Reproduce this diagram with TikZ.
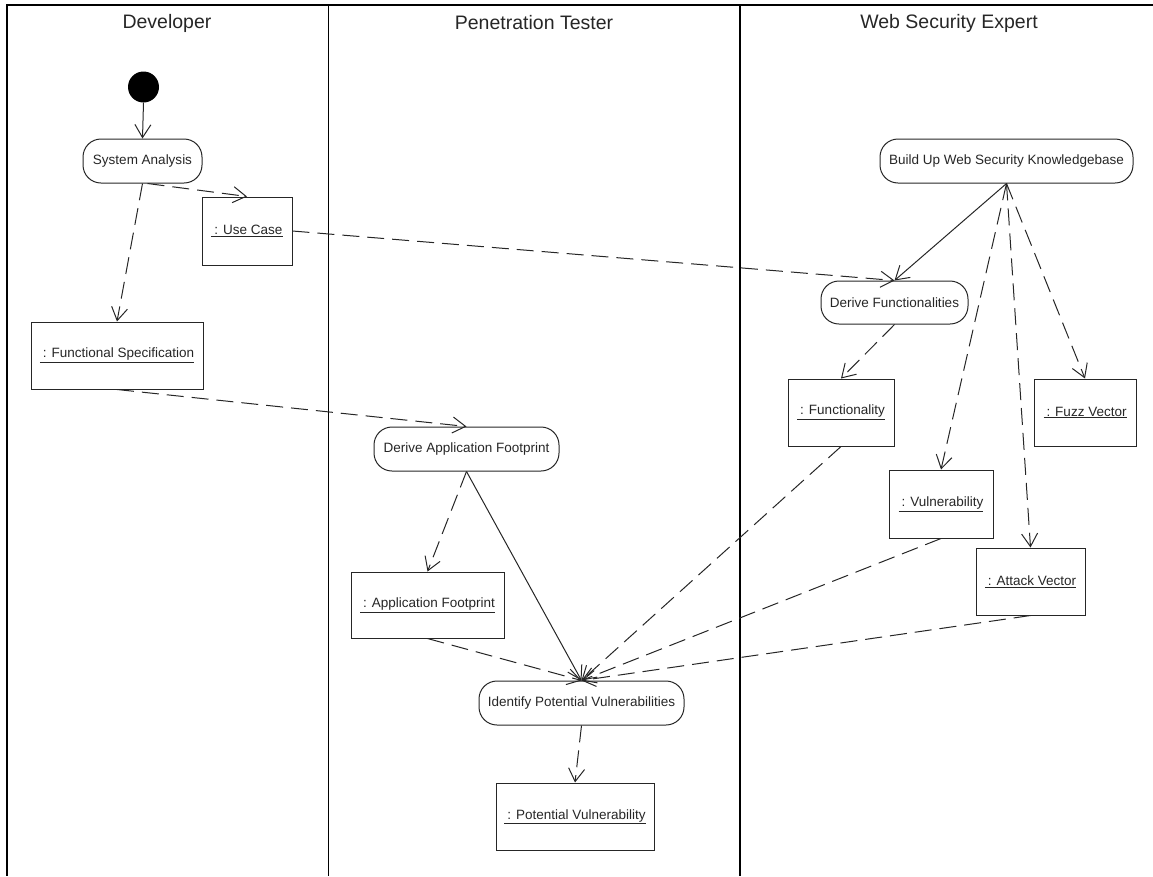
\documentclass[tikz,border=0pt]{standalone}
\usepackage{fontspec}
\setmainfont{Liberation Sans}
\usetikzlibrary{arrows.meta}
% object names are shown underlined
\newcommand{\objlabel}[1]{\underline{\hspace{3pt}: #1}}
\begin{document}
\begin{tikzpicture}[x=1pt,y=-1pt,
  every node/.style={font=\fontsize{13.5}{16}\selectfont, text=black!85, inner sep=0pt},
  action/.style={draw=black!85, rounded corners=18pt, minimum height=44pt, line width=1pt},
  object/.style={draw=black!85, minimum height=67pt, line width=1pt},
  flow/.style={draw=black!85, line width=1pt, -{Straight Barb[length=13pt,width=16pt]}},
  objflow/.style={flow, dash pattern=on 17pt off 8pt},
  lane/.style={draw=black, line width=1.2pt},
  header/.style={font=\fontsize{19.5}{22}\selectfont}
]
\useasboundingbox (0,0) rectangle (1153,876);

% swimlanes
\draw[lane] (1153,5) -- (7,5) -- (7,876);
\draw[lane] (328.5,5) -- (328.5,876);
\draw[lane] (740,5) -- (740,876);
\node[header] (hdev) at (167,23) {Developer};
\node[header] (hpen) at (534,23) {Penetration Tester};
\node[header] (hwse) at (949,23) {Web Security Expert};

% Developer lane
\node[circle, fill=black, minimum size=31pt] (init) at (143.5,87) {};
\node[action, minimum width=119pt] (sa) at (142.5,161) {System Analysis};
\node[object, minimum width=90pt, minimum height=68pt] (uc) at (247,231) {\objlabel{Use Case}};
\node[object, minimum width=172pt] (fs) at (117,355.5) {\objlabel{Functional Specification}};

% Penetration Tester lane
\node[action, minimum width=185pt] (dafp) at (466.5,449) {Derive Application Footprint};
\node[object, minimum width=153pt, minimum height=66pt] (afp) at (427.5,605) {\objlabel{Application Footprint}};
\node[action, minimum width=205pt] (ipv) at (581.5,703) {Identify Potential Vulnerabilities};
\node[object, minimum width=158pt] (pv) at (575,816.5) {\objlabel{Potential Vulnerability}};

% Web Security Expert lane
\node[action, minimum width=253pt] (bu) at (1006.5,161) {Build Up Web Security Knowledgebase};
\node[action, minimum width=147pt, minimum height=43pt] (dfn) at (894.5,302.5) {Derive Functionalities};
\node[object, minimum width=106pt] (fn) at (841,412.5) {\objlabel{Functionality}};
\node[object, minimum width=102pt] (fz) at (1085,412.5) {\objlabel{Fuzz Vector}};
\node[object, minimum width=104pt, minimum height=68pt] (vu) at (941,504) {\objlabel{Vulnerability}};
\node[object, minimum width=109pt] (av) at (1030.5,581.5) {\objlabel{Attack Vector}};

% control flows
\draw[flow] (init.south) -- (sa.north);
\draw[flow] (bu.south) -- (dfn.north);
\draw[flow] (dafp.south) -- (ipv.north);

% object flows
\draw[objflow] (sa.south) ++(5,0) -- (uc.north);
\draw[objflow] (sa.south) -- (fs.north);
\draw[objflow] (uc.east) -- (dfn.north);
\draw[objflow] (fs.south) -- (dafp.north);
\draw[objflow] (bu.south) -- (vu.north);
\draw[objflow] (bu.south) -- (av.north);
\draw[objflow] (bu.south) -- (fz.north);
\draw[objflow] (dfn.south) -- (fn.north);
\draw[objflow] (dafp.south) -- (afp.north);
\draw[objflow] (afp.south) -- (ipv.north);
\draw[objflow] (fn.south) -- (ipv.north);
\draw[objflow] (vu.south) -- (ipv.north);
\draw[objflow] (av.south) -- (ipv.north);
\draw[objflow] (ipv.south) -- (pv.north);
\end{tikzpicture}
\end{document}
